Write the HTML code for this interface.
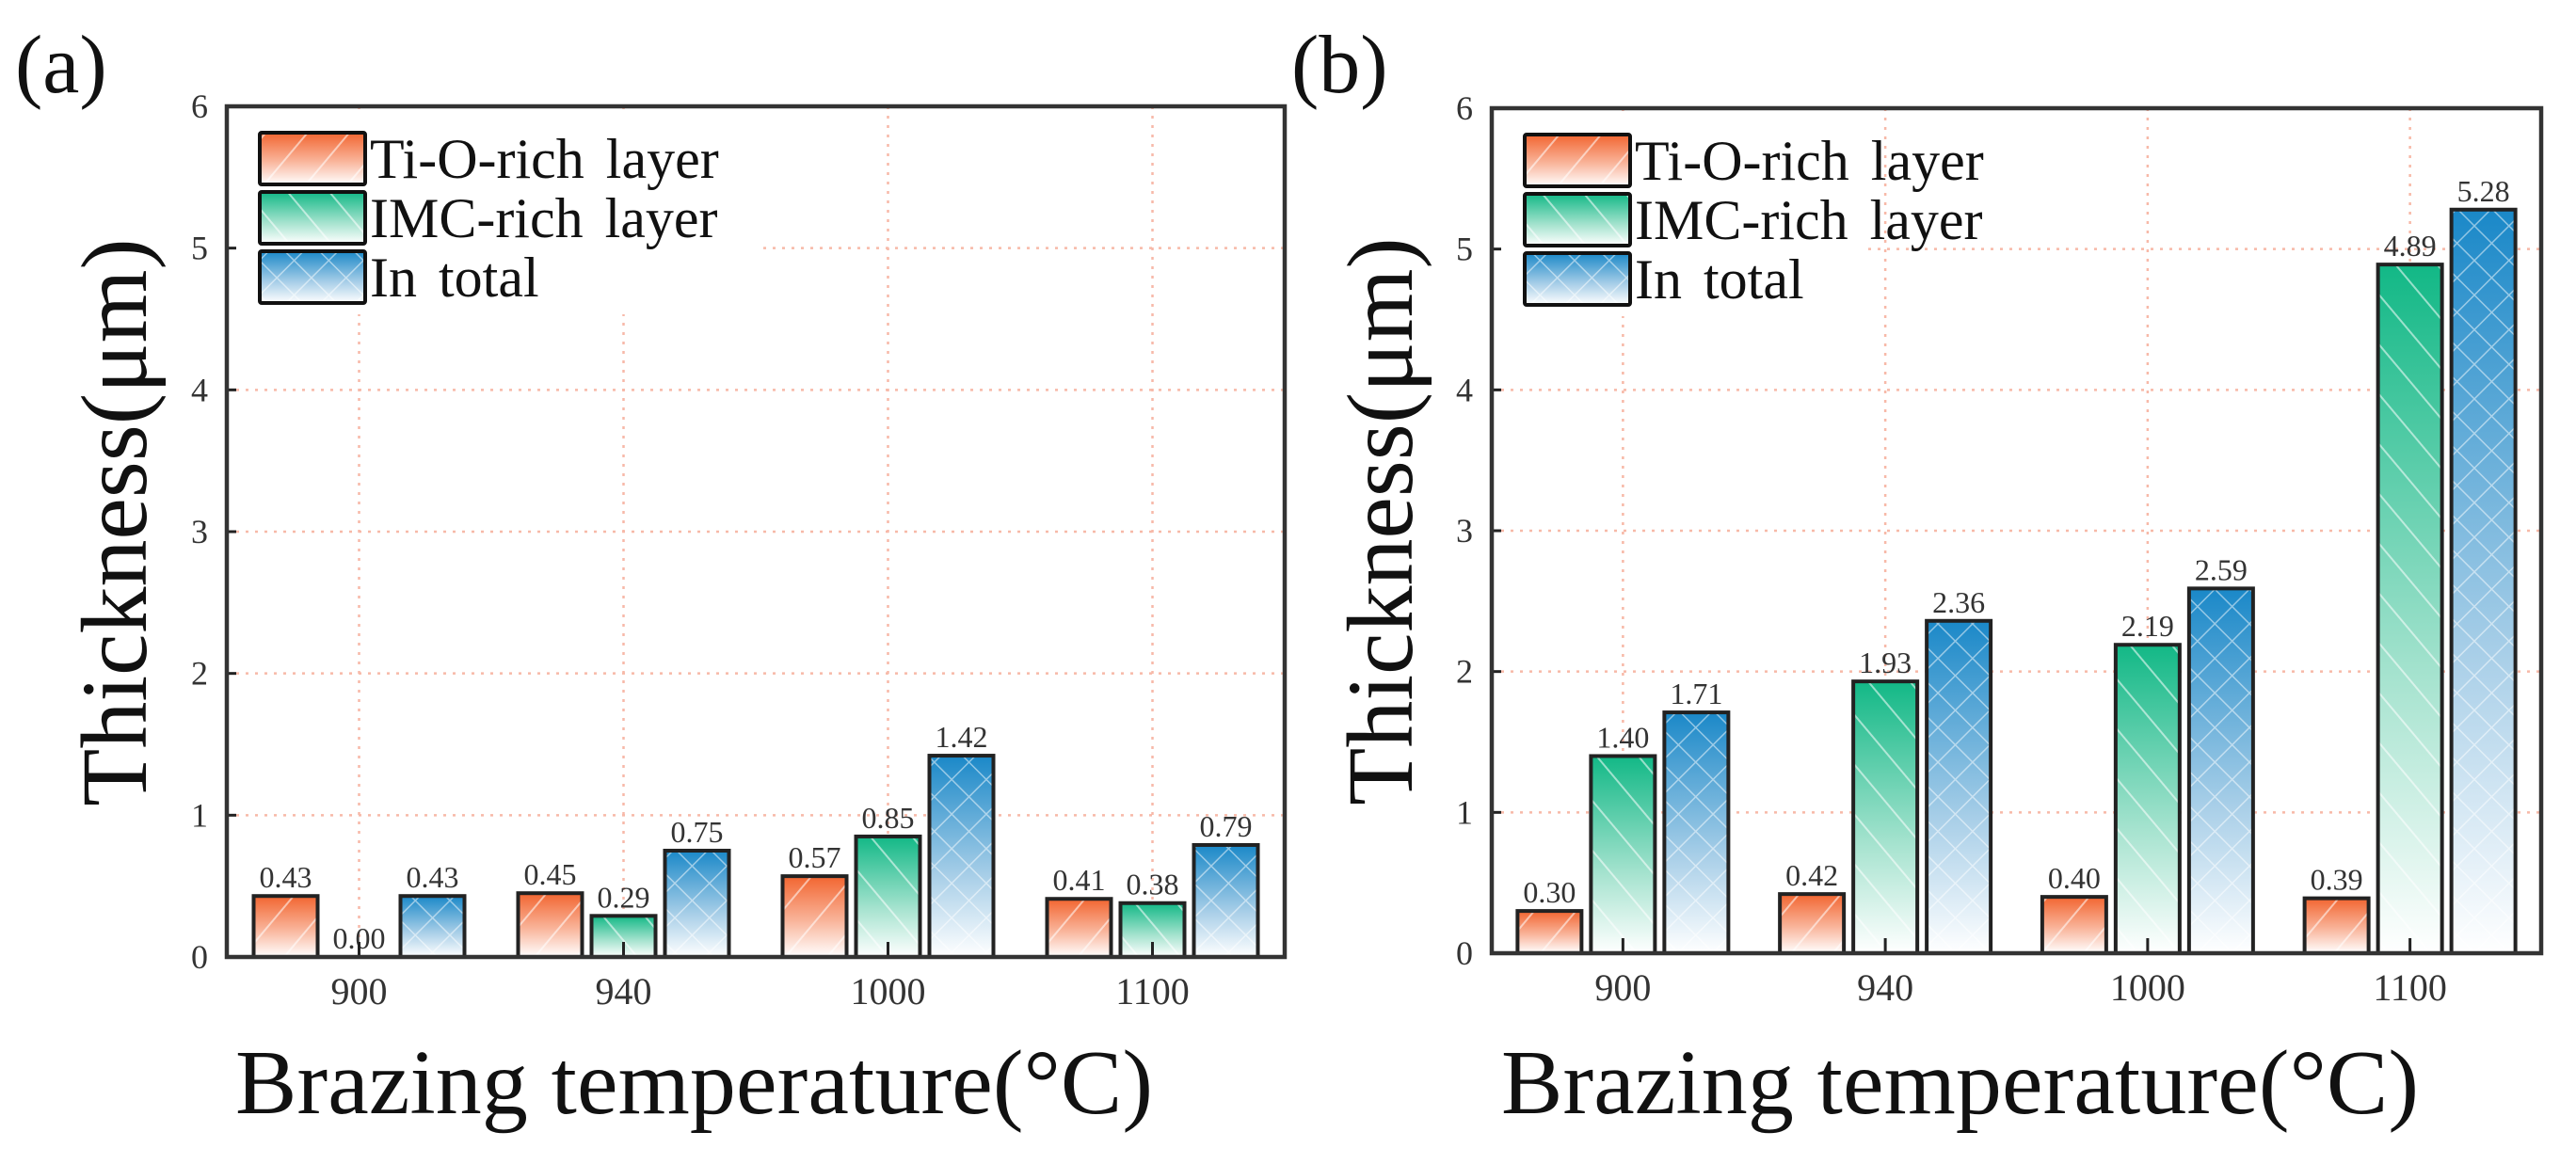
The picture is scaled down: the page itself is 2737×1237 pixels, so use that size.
<!DOCTYPE html>
<html><head><meta charset="utf-8"><style>
html,body{margin:0;padding:0;background:#fff;}
svg{display:block;font-family:"Liberation Serif","Times New Roman",serif;}
</style></head><body>
<svg id="chart" width="2737" height="1237" viewBox="0 0 2737 1237" xmlns="http://www.w3.org/2000/svg">
<defs>
  <linearGradient id="gOr" x1="0" y1="0" x2="0" y2="1"><stop offset="0" stop-color="#f26530"/><stop offset="0.55" stop-color="#f9b49a"/><stop offset="1" stop-color="#ffffff"/></linearGradient>
  <linearGradient id="gGr" x1="0" y1="0" x2="0" y2="1"><stop offset="0" stop-color="#12b886"/><stop offset="0.6" stop-color="#a6e3cf"/><stop offset="1" stop-color="#ffffff"/></linearGradient>
  <linearGradient id="gBl" x1="0" y1="0" x2="0" y2="1"><stop offset="0" stop-color="#1a88c8"/><stop offset="0.6" stop-color="#a9cfe8"/><stop offset="1" stop-color="#ffffff"/></linearGradient>
  <pattern id="pFw" width="34" height="34" patternUnits="userSpaceOnUse" patternTransform="rotate(40)"><line x1="0" y1="0" x2="0" y2="34" stroke="#fff" stroke-opacity="0.55" stroke-width="4"/></pattern>
  <pattern id="pBk" width="34" height="34" patternUnits="userSpaceOnUse" patternTransform="rotate(-40)"><line x1="0" y1="0" x2="0" y2="34" stroke="#fff" stroke-opacity="0.55" stroke-width="4"/></pattern>
  <pattern id="pX" width="26" height="26" patternUnits="userSpaceOnUse" patternTransform="rotate(45)"><path d="M0 0V26M0 0H26" stroke="#fff" stroke-opacity="0.5" stroke-width="3" fill="none"/></pattern>
</defs>
<g id="root"></g>
</svg>
<script>
const categories = ["900","940","1000","1100"];
const seriesNames = ["Ti-O-rich layer","IMC-rich layer","In total"];
const aTiO = [0.43,0.45,0.57,0.41];
const aIMC = [0.00,0.29,0.85,0.38];
const aTotal = [0.43,0.75,1.42,0.79];
const bTiO = [0.30,0.42,0.40,0.39];
const bIMC = [1.40,1.93,2.19,4.89];
const bTotal = [1.71,2.36,2.59,5.28];
const yTicks = [0,1,2,3,4,5,6];

const NS = "http://www.w3.org/2000/svg";
const root = document.getElementById("root");
function mk(tag, attrs, parent){const e=document.createElementNS(NS,tag);for(const k in attrs)e.setAttribute(k,attrs[k]);(parent||root).appendChild(e);return e;}
const fills=[["gOr","pFw"],["gGr","pBk"],["gBl","pX"]];
const snames=["ti-o-rich","imc-rich","in-total"];

function panel(p){
  const g=mk("g",{});
  
  
  const L=p.left,R=p.right,T=p.top,B=p.bottom;
  const step=(R-L)/categories.length;
  const xC=i=>L+step*(i+0.5);
  const yS=v=>B-(v/6)*(B-T);
  yTicks.slice(1,6).forEach(t=>{const l=mk("line",{x1:L,x2:R,y1:yS(t),y2:yS(t),stroke:"#f7b9a8","stroke-width":2.5,"stroke-dasharray":"3 7"},g);
    
    });
  categories.forEach((c,i)=>{const l=mk("line",{x1:xC(i),x2:xC(i),y1:T,y2:B,stroke:"#f7b9a8","stroke-width":2.5,"stroke-dasharray":"3 7"},g);
    
    });
  const lb=mk("rect",{x:L+3,y:T+3,width:p.legW,height:p.legH,fill:"#fff"},g);
  
  
  const data=p.series;
  data.forEach((arr,s)=>{
    arr.forEach((v,i)=>{
      const cx=xC(i)+(s-1)*78, w=68, y=yS(v), h=B-y;
      if(h>0.5){
        const r1=mk("rect",{x:cx-w/2,y:y,width:w,height:h,fill:"url(#"+fills[s][0]+")"},g);
        
        
        const r2=mk("rect",{x:cx-w/2,y:y,width:w,height:h,fill:"url(#"+fills[s][1]+")",stroke:"#222","stroke-width":4},g);
        
        
      }
      const t=mk("text",{x:cx,y:y-9,"text-anchor":"middle","font-size":32,fill:"#333"},g);
      t.textContent=v.toFixed(2);
      
      
    });
  });
  categories.forEach((c,i)=>{
    const tk=mk("line",{x1:xC(i),x2:xC(i),y1:B,y2:B-16,stroke:"#222","stroke-width":3},g);
    
    
    const t=mk("text",{x:xC(i),y:B+50,"text-anchor":"middle","font-size":40,fill:"#333"},g);
    t.textContent=c;
    
    
  });
  yTicks.forEach(v=>{
    const tk=mk("line",{x1:L,x2:L+10,y1:yS(v),y2:yS(v),stroke:"#222","stroke-width":3},g);
    
    
    const t=mk("text",{x:L-20,y:yS(v)+12,"text-anchor":"end","font-size":36,fill:"#333"},g);
    t.textContent=v;
    
    
  });
  const fr=mk("rect",{x:L,y:T,width:R-L,height:B-T,fill:"none",stroke:"#333","stroke-width":4.5},g);
  
  
  seriesNames.forEach((n,s)=>{
    const y0=T+28+s*63;
    const a=mk("rect",{x:L+35,y:y0,width:112,height:55,fill:"url(#"+fills[s][0]+")"},g);
    
    
    const b=mk("rect",{x:L+35,y:y0,width:112,height:55,fill:"url(#"+fills[s][1]+")",stroke:"#111","stroke-width":4,rx:2},g);
    
    
    const t=mk("text",{x:L+152,y:y0+48,"font-size":60,fill:"#111","word-spacing":"8"},g);
    t.textContent=n;
    
    
  });
  const yt=mk("text",{x:0,y:0,"text-anchor":"middle","font-size":100,fill:"#111",transform:"translate("+(p.ytX)+","+((T+B)/2-10)+") rotate(-90)"},g);
  yt.textContent="Thickness(μm)";
  
  
  const xt=mk("text",{x:p.xtX,y:1183,"font-size":98,fill:"#111",textLength:975,lengthAdjust:"spacing"},g);
  xt.textContent="Brazing  temperature(°C)";
  
  
  const pl=mk("text",{x:p.plX,y:98,"font-size":88,fill:"#111"},g);
  pl.textContent="("+p.id+")";
  
  
}
panel({id:"a",left:241,right:1365,top:113,bottom:1017,series:[aTiO,aIMC,aTotal],legW:565,legH:218,ytX:155,xtX:250,plX:16});
panel({id:"b",left:1585,right:2700,top:115,bottom:1013,series:[bTiO,bIMC,bTotal],legW:390,legH:218,ytX:1500,xtX:1595,plX:1372});
</script>
</body></html>
